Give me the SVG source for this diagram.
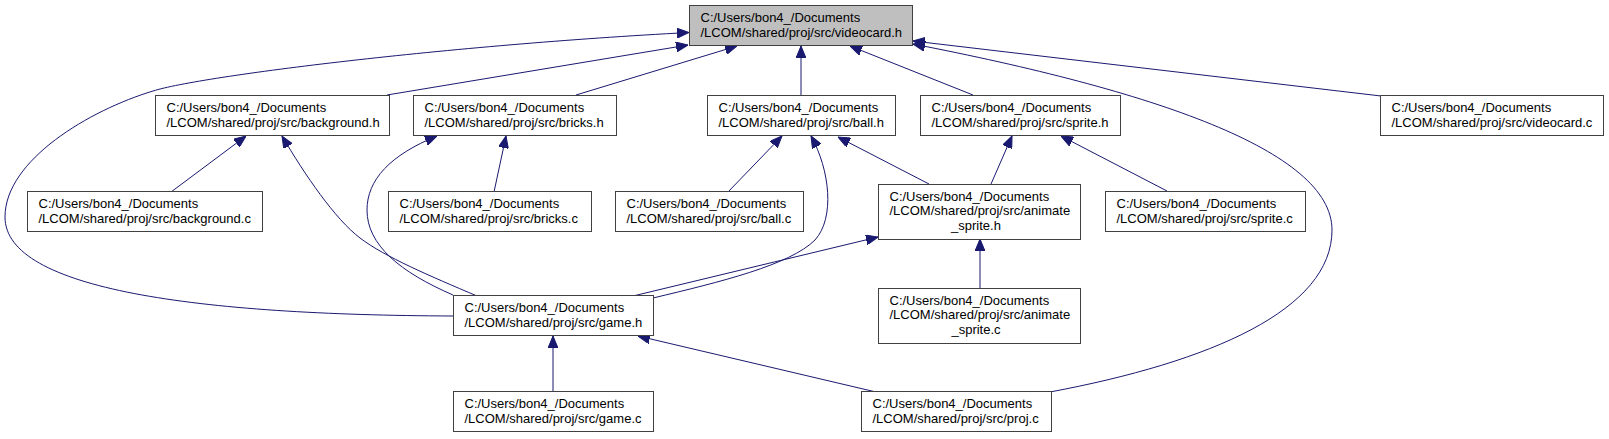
<svg xmlns="http://www.w3.org/2000/svg" width="1609" height="439" viewBox="0 0 1609 439">
<style>
  .box { fill: #ffffff; stroke: #404040; stroke-width: 1; }
  .root { fill: #bfbfbf; stroke: #404040; stroke-width: 1; }
  text { font-family: "Liberation Sans", Arial, sans-serif; font-size: 13px; fill: #000000; }
  .edge { fill: none; stroke: #191970; stroke-width: 1; marker-end: url(#arrow); }
</style>
<defs>
  <marker id="arrow" viewBox="0 0 12 10" markerWidth="12" markerHeight="10" refX="12" refY="5" orient="auto" markerUnits="userSpaceOnUse">
    <path d="M0,0 L12,5 L0,10 z" fill="#191970" stroke="#191970" stroke-width="1"/>
  </marker>
</defs>
<rect width="1609" height="439" fill="#ffffff"/>
<g id="connectors">
  <path class="edge" d="M387,95 L688,45"/>
  <path class="edge" d="M576,95 L737,46"/>
  <path class="edge" d="M801,95 L801,46"/>
  <path class="edge" d="M973,95 L850,46"/>
  <path class="edge" d="M1381,96 L913,41"/>
  <path class="edge" d="M1050,392 C1210,362 1332,310 1332,230 C1332,150 1150,90 913,44"/>
  <path class="edge" d="M453,316 C200,315 5,290 5,217 C5,160 90,110 153,91 C200,76 450,45 689,32.5"/>
  <path class="edge" d="M171,192 L246,136"/>
  <path class="edge" d="M477,296 C430,276 385,257 360,238 C335,219 305,175 282,136"/>
  <path class="edge" d="M453,295 C400,272 367,245 367,210 C367,180 390,155 437,136"/>
  <path class="edge" d="M494,192 L506,136"/>
  <path class="edge" d="M728,192 L782,136"/>
  <path class="edge" d="M653,298 C720,282 790,265 815,240 C835,218 830,170 811,136"/>
  <path class="edge" d="M929,184 L838,137"/>
  <path class="edge" d="M991,184 L1012,136"/>
  <path class="edge" d="M1167,191 L1061,136"/>
  <path class="edge" d="M980,288 L980,239"/>
  <path class="edge" d="M633,296 L878,237"/>
  <path class="edge" d="M553,392 L553,336"/>
  <path class="edge" d="M876,392 L638,336"/>
</g>
<g id="videocard_h">
  <rect class="root" x="689.5" y="5.5" width="223" height="40"/>
  <text x="700.5" y="21.5">C:/Users/bon4_/Documents</text>
  <text x="700.5" y="36.5">/LCOM/shared/proj/src/videocard.h</text>
</g>
<g id="background_h">
  <rect class="box" x="155.5" y="95.5" width="234" height="40"/>
  <text x="166.5" y="111.5">C:/Users/bon4_/Documents</text>
  <text x="166.5" y="126.5">/LCOM/shared/proj/src/background.h</text>
</g>
<g id="bricks_h">
  <rect class="box" x="413.5" y="95.5" width="203" height="40"/>
  <text x="424.5" y="111.5">C:/Users/bon4_/Documents</text>
  <text x="424.5" y="126.5">/LCOM/shared/proj/src/bricks.h</text>
</g>
<g id="ball_h">
  <rect class="box" x="707.5" y="95.5" width="188" height="40"/>
  <text x="718.5" y="111.5">C:/Users/bon4_/Documents</text>
  <text x="718.5" y="126.5">/LCOM/shared/proj/src/ball.h</text>
</g>
<g id="sprite_h">
  <rect class="box" x="920.5" y="95.5" width="200" height="40"/>
  <text x="931.5" y="111.5">C:/Users/bon4_/Documents</text>
  <text x="931.5" y="126.5">/LCOM/shared/proj/src/sprite.h</text>
</g>
<g id="videocard_c">
  <rect class="box" x="1380.5" y="95.5" width="223" height="40"/>
  <text x="1391.5" y="111.5">C:/Users/bon4_/Documents</text>
  <text x="1391.5" y="126.5">/LCOM/shared/proj/src/videocard.c</text>
</g>
<g id="background_c">
  <rect class="box" x="27.5" y="191.5" width="235" height="40"/>
  <text x="38.5" y="207.5">C:/Users/bon4_/Documents</text>
  <text x="38.5" y="222.5">/LCOM/shared/proj/src/background.c</text>
</g>
<g id="bricks_c">
  <rect class="box" x="388.5" y="191.5" width="203" height="40"/>
  <text x="399.5" y="207.5">C:/Users/bon4_/Documents</text>
  <text x="399.5" y="222.5">/LCOM/shared/proj/src/bricks.c</text>
</g>
<g id="ball_c">
  <rect class="box" x="615.5" y="191.5" width="188" height="40"/>
  <text x="626.5" y="207.5">C:/Users/bon4_/Documents</text>
  <text x="626.5" y="222.5">/LCOM/shared/proj/src/ball.c</text>
</g>
<g id="animate_sprite_h">
  <rect class="box" x="878.5" y="184.5" width="202" height="55"/>
  <text x="889.5" y="200.5">C:/Users/bon4_/Documents</text>
  <text x="889.5" y="215">/LCOM/shared/proj/src/animate</text>
  <text x="976" y="229.5" text-anchor="middle">_sprite.h</text>
</g>
<g id="sprite_c">
  <rect class="box" x="1105.5" y="191.5" width="200" height="40"/>
  <text x="1116.5" y="207.5">C:/Users/bon4_/Documents</text>
  <text x="1116.5" y="222.5">/LCOM/shared/proj/src/sprite.c</text>
</g>
<g id="game_h">
  <rect class="box" x="453.5" y="295.5" width="200" height="40"/>
  <text x="464.5" y="311.5">C:/Users/bon4_/Documents</text>
  <text x="464.5" y="326.5">/LCOM/shared/proj/src/game.h</text>
</g>
<g id="animate_sprite_c">
  <rect class="box" x="878.5" y="288.5" width="202" height="55"/>
  <text x="889.5" y="304.5">C:/Users/bon4_/Documents</text>
  <text x="889.5" y="319">/LCOM/shared/proj/src/animate</text>
  <text x="976" y="333.5" text-anchor="middle">_sprite.c</text>
</g>
<g id="game_c">
  <rect class="box" x="453.5" y="391.5" width="200" height="40"/>
  <text x="464.5" y="407.5">C:/Users/bon4_/Documents</text>
  <text x="464.5" y="422.5">/LCOM/shared/proj/src/game.c</text>
</g>
<g id="proj_c">
  <rect class="box" x="861.5" y="391.5" width="190" height="40"/>
  <text x="872.5" y="407.5">C:/Users/bon4_/Documents</text>
  <text x="872.5" y="422.5">/LCOM/shared/proj/src/proj.c</text>
</g>
</svg>
